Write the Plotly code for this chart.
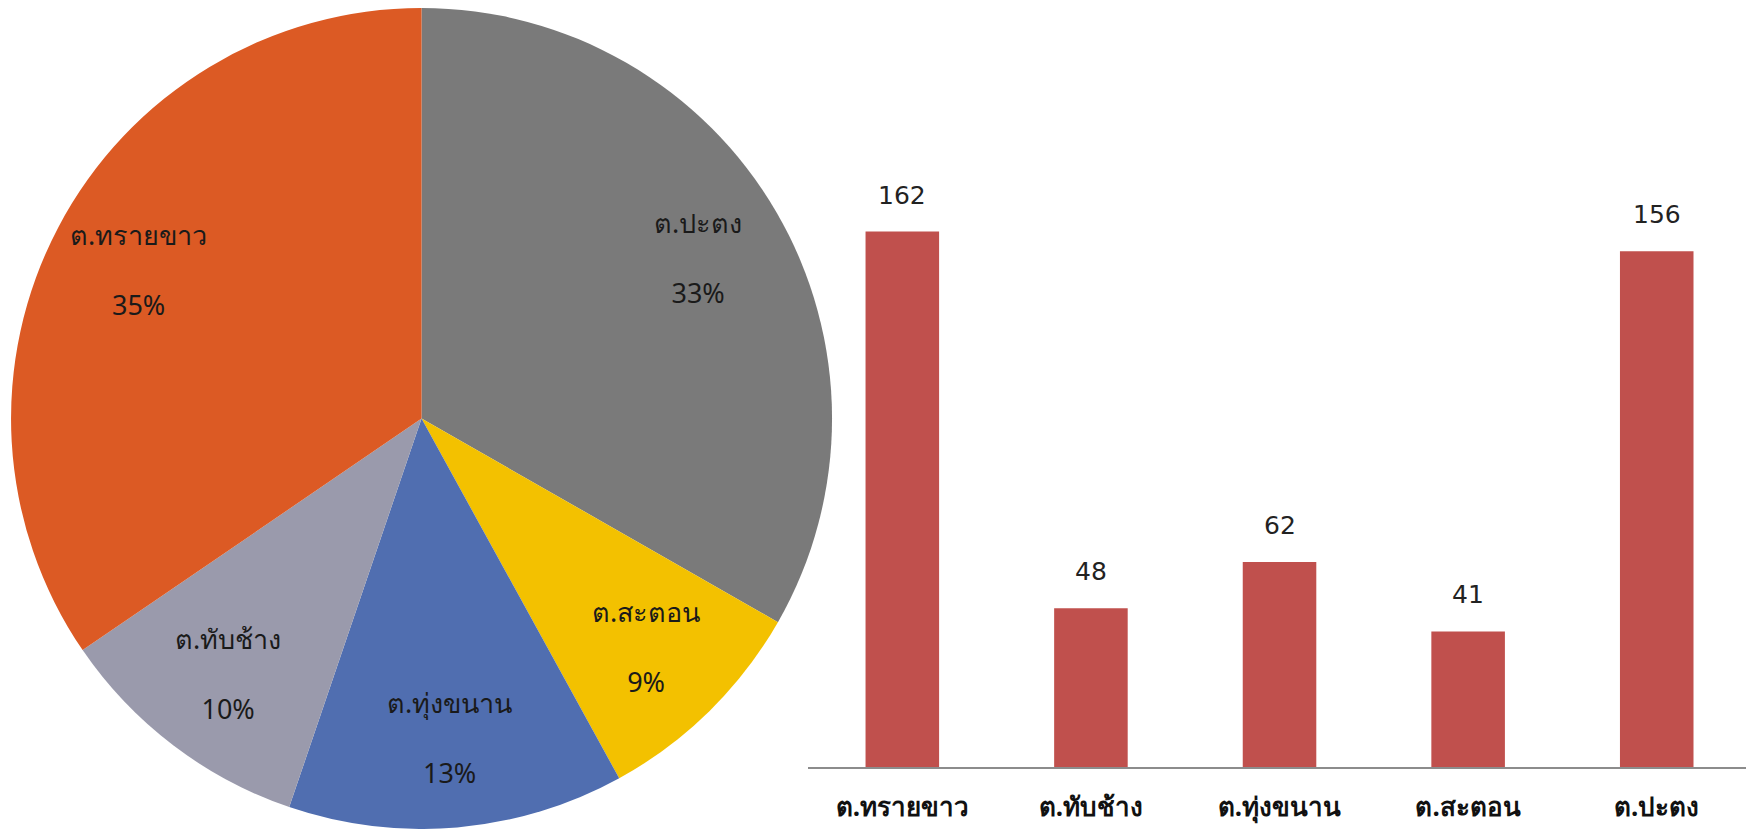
import math
import plotly.graph_objects as go

categories = ["ต.ทรายขาว", "ต.ทับช้าง", "ต.ทุ่งขนาน", "ต.สะตอน", "ต.ปะตง"]
values = [162, 48, 62, 41, 156]
pie_colors = ["#dc5a24", "#9a9aac", "#506eb0", "#f3c100", "#7a7a7a"]
bar_color = "#c0504d"

W, H = 1746, 821
pie_dom_x = [0.0017, 0.472]
pie_dom_y = [0.0, 1.0]

fig = go.Figure()

# pie drawn clockwise from 12 o'clock in reverse category order
fig.add_trace(go.Pie(
    labels=categories[::-1],
    values=values[::-1],
    sort=False,
    direction="clockwise",
    rotation=0,
    marker=dict(colors=pie_colors[::-1], line=dict(width=0)),
    textinfo="none",
    domain=dict(x=pie_dom_x, y=pie_dom_y),
    showlegend=False,
    hoverinfo="label+value+percent",
))

# slice labels placed along each slice's mid-angle (Excel-like placement)
total = sum(values)
cx = (pie_dom_x[0] + pie_dom_x[1]) / 2
cy = (pie_dom_y[0] + pie_dom_y[1]) / 2
r_px = min((pie_dom_x[1] - pie_dom_x[0]) * W, (pie_dom_y[1] - pie_dom_y[0]) * H) / 2
k = 0.78
cum = 0.0
for lab, v in zip(categories[::-1], values[::-1]):
    mid = (cum + v / 2) / total * 2 * math.pi
    cum += v
    px = cx + k * r_px * math.sin(mid) / W
    py = cy + k * r_px * math.cos(mid) / H
    fig.add_annotation(
        x=px, y=py, xref="paper", yref="paper",
        text=f"{lab}<br><br>{round(v / total * 100)}%",
        showarrow=False, xanchor="center", yanchor="middle",
        font=dict(size=27, color="#1a1a1a", family="Noto Sans, Tahoma, sans-serif"),
    )

fig.add_trace(go.Bar(
    x=categories,
    y=values,
    marker=dict(color=bar_color, line=dict(width=0)),
    width=0.39,
    showlegend=False,
))

for c, v in zip(categories, values):
    fig.add_annotation(
        x=c, y=v, text=str(v), showarrow=False,
        yanchor="bottom", yshift=20,
        font=dict(size=25, color="#222", family="DejaVu Sans, Verdana, sans-serif"),
    )

fig.update_layout(
    width=W, height=H,
    margin=dict(l=0, r=0, t=0, b=0),
    paper_bgcolor="white",
    plot_bgcolor="white",
    xaxis=dict(
        domain=[0.4582, 0.9983],
        showgrid=False,
        showline=True, linecolor="#8c8c8c", linewidth=2,
        ticks="", ticklabelstandoff=16,
        tickfont=dict(size=26, color="#111", family="Noto Sans, Tahoma, sans-serif", weight="bold"),
        automargin=False,
    ),
    yaxis=dict(
        domain=[0.0755, 0.8002],
        range=[0, 180],
        showgrid=False, zeroline=False, showticklabels=False, showline=False,
    ),
)

fig.write_html("out.html")
